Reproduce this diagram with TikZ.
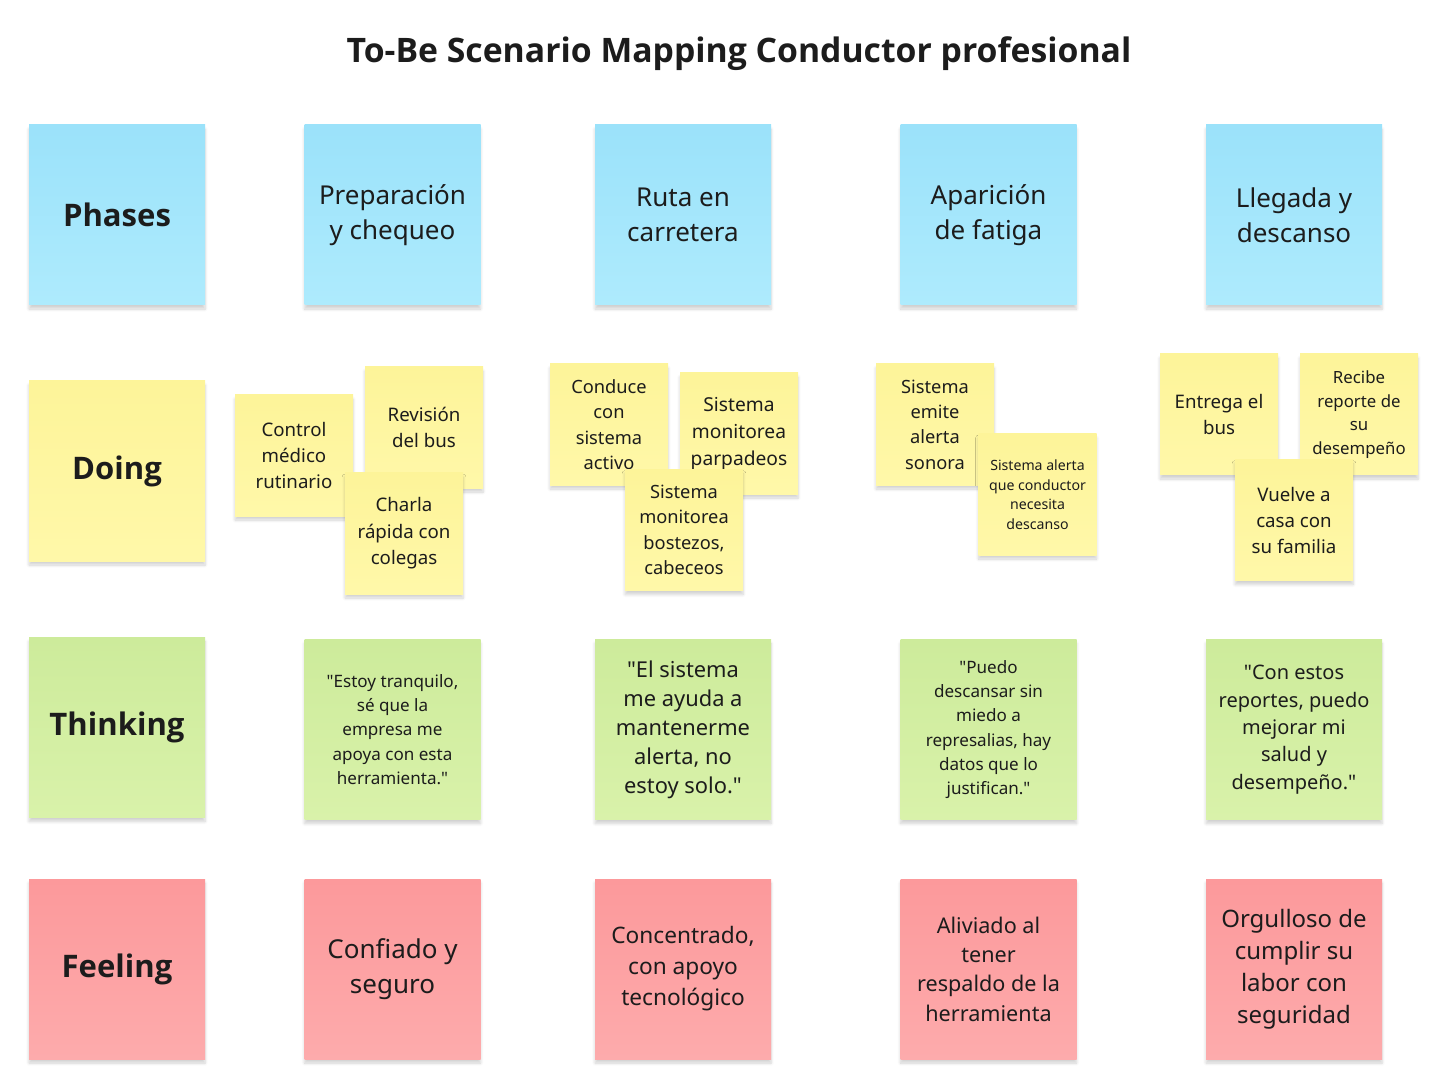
\documentclass[tikz,border=0pt]{standalone}
\usepackage{fontspec}
\setmainfont{Noto Sans}[Ligatures=TeXReset]
\newfontfamily\headfont{Open Sans}[Ligatures=TeXReset]
\usetikzlibrary{shadows.blur}
\definecolor{txt}{HTML}{1C1C1C}
\definecolor{blueA}{HTML}{9BE2FA}
\definecolor{blueB}{HTML}{AEEBFD}
\definecolor{yelA}{HTML}{FDF499}
\definecolor{yelB}{HTML}{FFF8A9}
\definecolor{grnA}{HTML}{CDEB9B}
\definecolor{grnB}{HTML}{D9F2AA}
\definecolor{redA}{HTML}{FC999B}
\definecolor{redB}{HTML}{FDABAC}

\begin{document}
\begin{tikzpicture}[x=0.75pt, y=-0.75pt,
  note/.style={align=center, text=txt, inner sep=2pt,
    blur shadow={shadow xshift=0pt, shadow yshift=-3pt, shadow opacity=18, shadow blur steps=6}},
  big/.style={note, minimum width=132pt, minimum height=135pt},
  small/.style={note, minimum width=88.5pt, minimum height=90.75pt},
  phase/.style={big, top color=blueA, bottom color=blueB},
  doing/.style={small, top color=yelA, bottom color=yelB},
  doingbig/.style={big, top color=yelA, bottom color=yelB},
  think/.style={big, top color=grnA, bottom color=grnB},
  feel/.style={big, top color=redA, bottom color=redB},
  lbl/.style={font={\headfont\bfseries\fontsize{23.3}{28}\selectfont}},
  fs/.style n args={2}{font={\fontsize{#1}{#2}\selectfont}}]
\useasboundingbox (0,0) rectangle (1440,1084);

\node[font={\headfont\bfseries\fontsize{25.3}{30}\selectfont}, text=txt] (title) at (739,54) {To-Be Scenario Mapping Conductor profesional};

% phases
\node[phase, lbl] (p0) at (117,215) {Phases};
\node[phase, fs={19.5}{26.2}] (p1) at (392.5,215) {Preparación\\y chequeo};
\node[phase, fs={19.5}{26.2}] (p2) at (683,215) {Ruta en\\carretera};
\node[phase, fs={19.5}{26.2}] (p3) at (988.5,215) {Aparición\\de fatiga};
\node[phase, fs={19.5}{26.2}] (p4) at (1294,215) {Llegada y\\descanso};

% doing
\node[doingbig, lbl] (d0) at (117,471) {Doing};
\node[doing, fs={14}{19.8}] (d1a) at (294,455.5) {Control\\médico\\rutinario};
\node[doing, fs={14}{19.5}] (d1b) at (424,427.5) {Revisión\\del bus};
\node[doing, fs={14}{19.8}] (d1c) at (404,533.5) {Charla\\rápida con\\colegas};
\node[doing, fs={13.7}{19}] (d2a) at (609,424.5) {Conduce\\con\\sistema\\activo};
\node[doing, fs={14.4}{20.2}] (d2b) at (739,433.5) {Sistema\\monitorea\\parpadeos};
\node[doing, fs={13.7}{19}] (d2c) at (684,530) {Sistema\\monitorea\\bostezos,\\cabeceos};
\node[doing, fs={13.7}{19}] (d3a) at (935,424.5) {Sistema\\emite\\alerta\\sonora};
\node[doing, fs={10.6}{14.6}] (d3b) at (1037.5,494.5) {Sistema alerta\\que conductor\\necesita\\descanso};
\node[doing, fs={14}{19.5}] (d4a) at (1219,414.5) {Entrega el\\bus};
\node[doing, fs={12.6}{17.6}] (d4b) at (1359,414.5) {Recibe\\reporte de\\su\\desempeño};
\node[doing, fs={14}{19.5}] (d4c) at (1294,520) {Vuelve a\\casa con\\su familia};

% thinking
\node[think, lbl] (t0) at (117,727.5) {Thinking};
\node[think, fs={12.8}{18.2}] (t1) at (392.5,729.5) {"Estoy tranquilo,\\sé que la\\empresa me\\apoya con esta\\herramienta."};
\node[think, fs={16.4}{21.8}] (t2) at (683,729.5) {"El sistema\\me ayuda a\\mantenerme\\alerta, no\\estoy solo."};
\node[think, fs={12.8}{18.2}] (t3) at (988.5,729.5) {"Puedo\\descansar sin\\miedo a\\represalias, hay\\datos que lo\\justifican."};
\node[think, fs={15}{20.5}] (t4) at (1294,729.5) {"Con estos\\reportes, puedo\\mejorar mi\\salud y\\desempeño."};

% feeling
\node[feel, lbl] (f0) at (117,969) {Feeling};
\node[feel, fs={19.5}{26.2}] (f1) at (392.5,969) {Confiado y\\seguro};
\node[feel, fs={17}{23.2}] (f2) at (683,969) {Concentrado,\\con apoyo\\tecnológico};
\node[feel, fs={16.2}{22}] (f3) at (988.5,969) {Aliviado al\\tener\\respaldo de la\\herramienta};
\node[feel, fs={18}{24}] (f4) at (1294,969) {Orgulloso de\\cumplir su\\labor con\\seguridad};
\end{tikzpicture}
\end{document}
